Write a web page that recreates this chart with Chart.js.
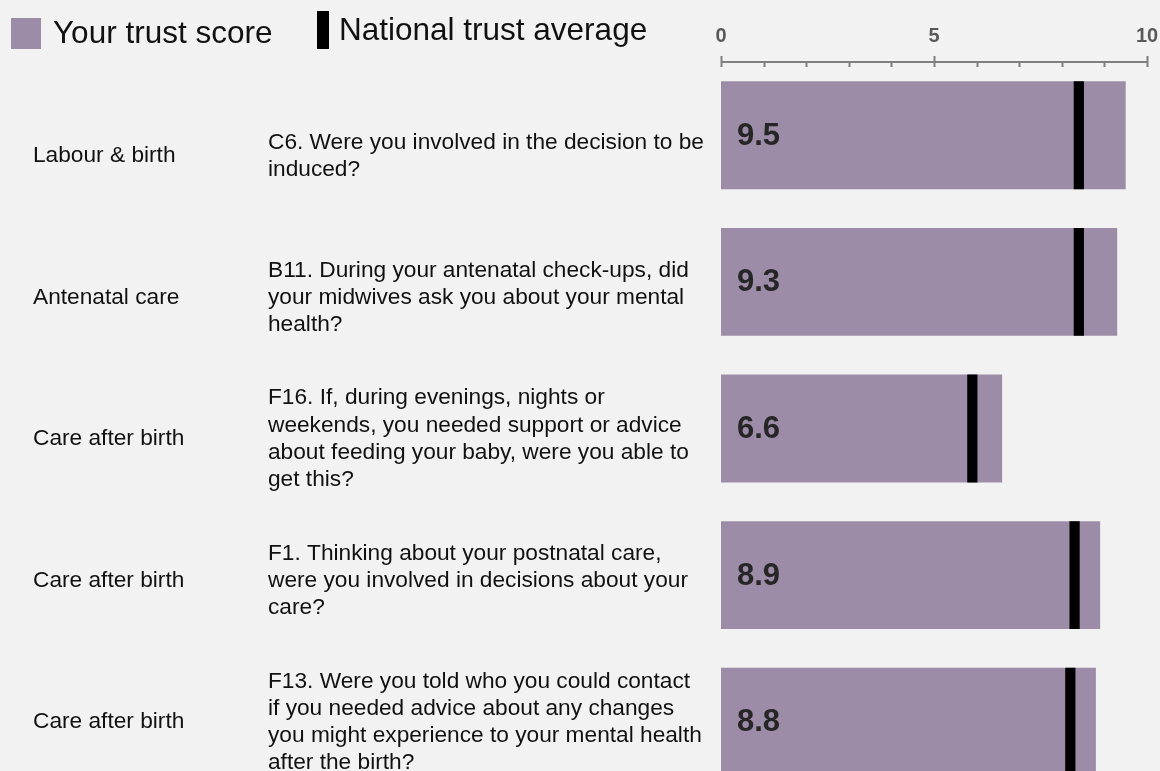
<!DOCTYPE html>
<html lang="en">
<head>
    <meta charset="UTF-8">
    <title>Trust score vs national average</title>
    <script src="https://cdn.jsdelivr.net/npm/chart.js"></script>
    <style>
        body {
            margin: 0;
            background: #f2f2f2;
            overflow: hidden;
            font-family: "Liberation Sans", Arial, sans-serif;
        }
        #wrap {
            position: relative;
            width: 1160px;
            height: 800px;
        }
        .legend-box {
            position: absolute;
        }
        .legend-text {
            position: absolute;
            font-size: 31.5px;
            line-height: 31px;
            color: #111;
            white-space: nowrap;
        }
    </style>
</head>
<body>
<div id="wrap">
    <canvas id="chart" width="1160" height="800"></canvas>
    <div class="legend-box" style="left:11px;top:18px;width:30px;height:31px;background:#9d8ca8;"></div>
    <div class="legend-text" style="left:53px;top:17px;">Your trust score</div>
    <div class="legend-box" style="left:317px;top:11px;width:12px;height:38px;background:#000;"></div>
    <div class="legend-text" style="left:339px;top:14px;">National trust average</div>
</div>

<script>
    // chart data
    const sections = ["Labour & birth", "Antenatal care", "Care after birth", "Care after birth", "Care after birth"];
    const questions = [
        ["C6. Were you involved in the decision to be", "induced?"],
        ["B11. During your antenatal check-ups, did", "your midwives ask you about your mental", "health?"],
        ["F16. If, during evenings, nights or", "weekends, you needed support or advice", "about feeding your baby, were you able to", "get this?"],
        ["F1. Thinking about your postnatal care,", "were you involved in decisions about your", "care?"],
        ["F13. Were you told who you could contact", "if you needed advice about any changes", "you might experience to your mental health", "after the birth?"]
    ];
    const trustScores = [9.5, 9.3, 6.6, 8.9, 8.8];
    const nationalAverages = [8.4, 8.4, 5.9, 8.3, 8.2];
    const axisMin = 0;
    const axisMax = 10;
    const labelStep = 5;

    const BAR_COLOR = "#9d8ca8";
    const AXIS_COLOR = "#7f7f7f";
    const markerHalf = 0.12; // half width of the black average marker, in score units

    // the text columns sit on a slightly tighter pitch than the bars
    const LABEL_MIN = -0.664;
    const LABEL_MAX = 4.515;

    // draws the top axis line with major / minor ticks
    const topAxisPlugin = {
        id: "topAxis",
        afterDraw(chart) {
            const ctx = chart.ctx;
            const x = chart.scales.x;
            const y = chart.chartArea.top;
            ctx.save();
            ctx.strokeStyle = AXIS_COLOR;
            ctx.lineWidth = 2;
            ctx.beginPath();
            ctx.moveTo(x.getPixelForValue(axisMin), y);
            ctx.lineTo(x.getPixelForValue(axisMax), y);
            ctx.stroke();
            for (let v = axisMin; v <= axisMax; v++) {
                const px = Math.round(x.getPixelForValue(v)) + 0.5;
                const major = v % labelStep === 0;
                ctx.beginPath();
                ctx.moveTo(px, major ? y - 6 : y);
                ctx.lineTo(px, y + 5);
                ctx.stroke();
            }
            ctx.restore();
        }
    };

    // bold score written inside each bar
    const valueLabelPlugin = {
        id: "valueLabels",
        afterDatasetsDraw(chart) {
            const ctx = chart.ctx;
            const meta = chart.getDatasetMeta(1);
            ctx.save();
            ctx.font = "bold 31px 'Liberation Sans', Arial, sans-serif";
            ctx.fillStyle = "#262626";
            ctx.textAlign = "left";
            ctx.textBaseline = "middle";
            meta.data.forEach((bar, i) => {
                ctx.fillText(trustScores[i].toFixed(1), bar.base + 16, bar.y + 1);
            });
            ctx.restore();
        }
    };

    const textFont = { family: "'Liberation Sans', Arial, sans-serif", size: 22.7, lineHeight: 1.2 };

    function labelAxis(texts, weight, width) {
        return {
            axis: "y",
            type: "linear",
            position: "left",
            weight: weight,
            reverse: true,
            offset: false,
            min: LABEL_MIN,
            max: LABEL_MAX,
            grid: { display: false, drawTicks: false },
            border: { display: false },
            afterBuildTicks(scale) {
                scale.ticks = texts.map((_, i) => ({ value: i }));
            },
            ticks: {
                autoSkip: false,
                crossAlign: "far",
                color: "#111",
                font: textFont,
                padding: 0,
                callback: (value) => texts[value]
            },
            afterFit(scale) {
                scale.width = width;
                scale.paddingTop = 0;
                scale.paddingBottom = 0;
            }
        };
    }

    new Chart(document.getElementById("chart"), {
        type: "bar",
        data: {
            labels: sections,
            datasets: [
                {
                    label: "National trust average",
                    data: nationalAverages.map(v => [v - markerHalf, v + markerHalf]),
                    backgroundColor: "#000",
                    order: 0,
                    grouped: false,
                    barPercentage: 0.736,
                    categoryPercentage: 1
                },
                {
                    label: "Your trust score",
                    data: trustScores,
                    backgroundColor: BAR_COLOR,
                    order: 1,
                    grouped: false,
                    barPercentage: 0.736,
                    categoryPercentage: 1
                }
            ]
        },
        options: {
            indexAxis: "y",
            responsive: false,
            animation: false,
            layout: { padding: { left: 33, right: 13, top: 0, bottom: 5 } },
            plugins: {
                legend: { display: false },
                tooltip: { enabled: false }
            },
            scales: {
                x: {
                    position: "top",
                    min: axisMin,
                    max: axisMax,
                    grid: { display: false, drawTicks: false },
                    border: { display: false },
                    ticks: {
                        stepSize: labelStep,
                        padding: 14,
                        color: "#595959",
                        font: { family: "'Liberation Sans', Arial, sans-serif", size: 20, weight: "bold" }
                    },
                    afterFit(scale) {
                        scale.height = 62;
                        scale.paddingLeft = 0;
                        scale.paddingRight = 0;
                    }
                },
                y: {
                    type: "category",
                    display: false,
                    offset: true
                },
                yQ: labelAxis(questions, 1, 453),
                yCat: labelAxis(sections, 2, 235)
            }
        },
        plugins: [topAxisPlugin, valueLabelPlugin]
    });
</script>
</body>
</html>
